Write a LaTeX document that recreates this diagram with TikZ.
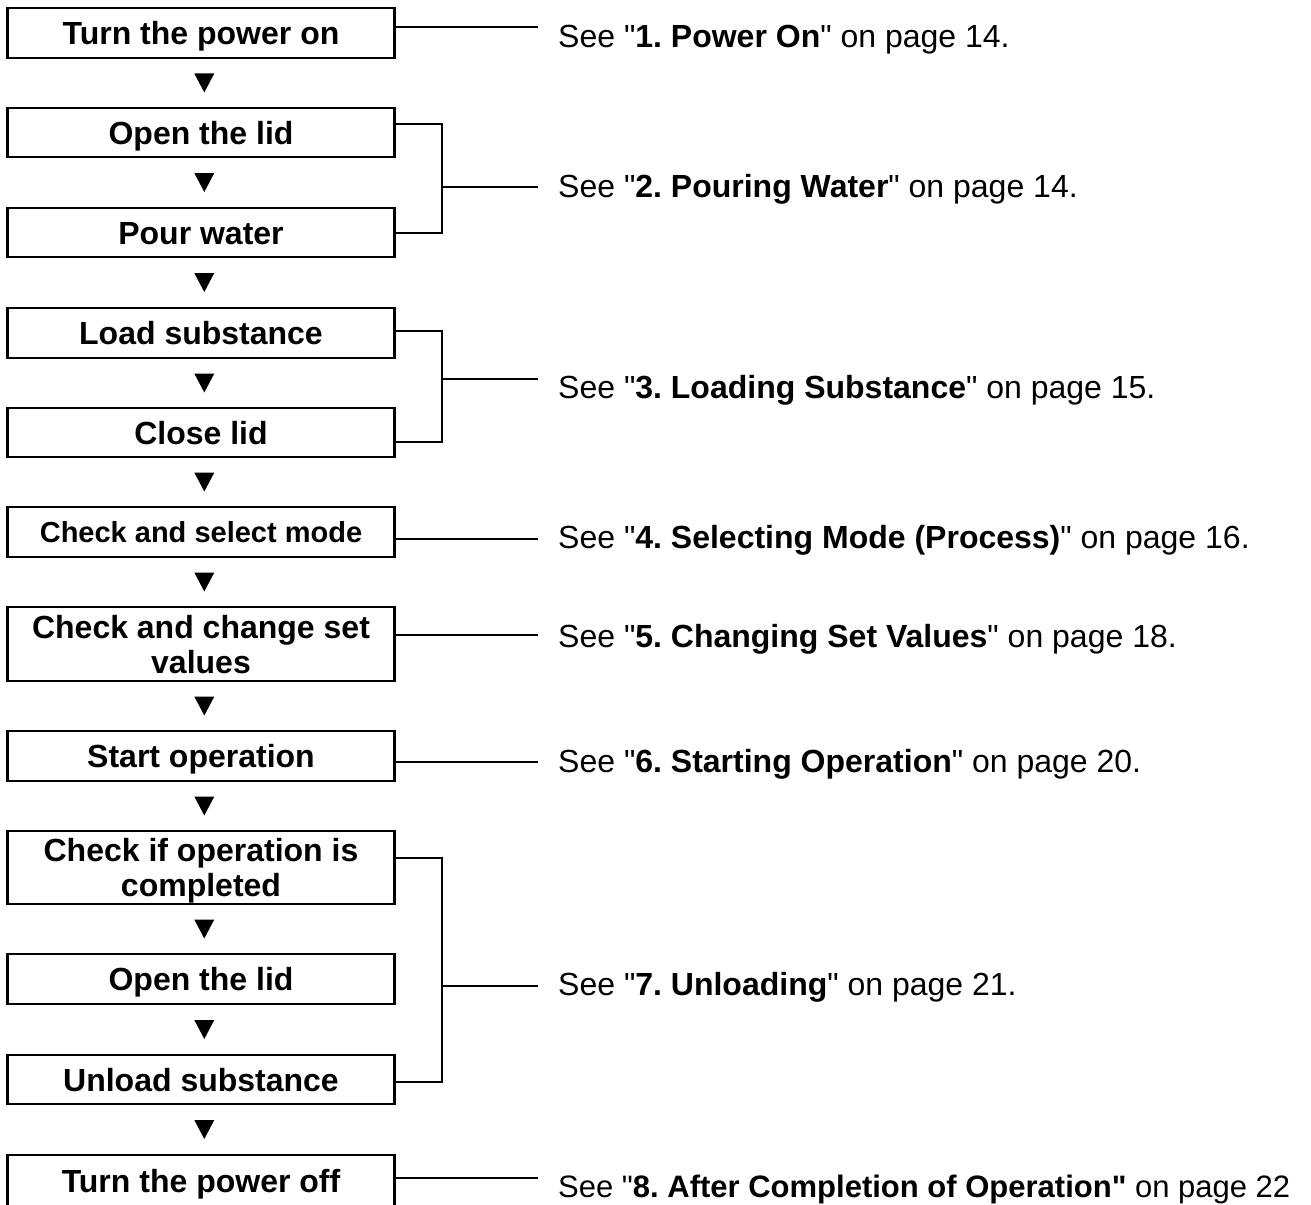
\documentclass[tikz,border=0pt]{standalone}
\usepackage{fontspec}
\setmainfont{Liberation Sans}[Ligatures=TeXOff]
\usetikzlibrary{calc}
\frenchspacing
\begin{document}
\begin{tikzpicture}[x=1pt,y=-1pt,
  stepbox/.style={draw,line width=2.7pt,minimum width=387pt,inner sep=0pt,outer sep=0pt,
    font=\fontsize{32}{35}\selectfont\bfseries,text height=23pt,text depth=0pt},
  twoline/.style={text height=58pt},
  refnote/.style={anchor=base west,inner sep=0pt,font=\fontsize{32}{35}\selectfont},
  conn/.style={line width=1.8pt},
  tri/.style={fill=black}]
\useasboundingbox[fill=white] (0,0) rectangle (1311,1204);

% boxes
\node[stepbox,minimum height=50pt] (b1) at (201,33) {Turn the power on};
\node[stepbox,minimum height=49pt] (b2) at (201,132.5) {Open the lid};
\node[stepbox,minimum height=49pt] (b3) at (201,232.5) {Pour water};
\node[stepbox,minimum height=50pt] (b4) at (201,333) {Load substance};
\node[stepbox,minimum height=49pt] (b5) at (201,432.5) {Close lid};
\node[stepbox,minimum height=50pt,font=\fontsize{29}{32}\selectfont\bfseries,text height=21pt] (b6) at (201,532) {Check and select mode};
\node[stepbox,twoline,minimum height=74pt] (b7) at (201,644) {\begin{tabular}[b]{@{}c@{}}Check and change set\\values\end{tabular}};
\node[stepbox,minimum height=50pt] (b8) at (201,756) {Start operation};
\node[stepbox,twoline,minimum height=73pt] (b9) at (201,867.5) {\begin{tabular}[b]{@{}c@{}}Check if operation is\\completed\end{tabular}};
\node[stepbox,minimum height=50pt] (b10) at (201,979) {Open the lid};
\node[stepbox,minimum height=49pt] (b11) at (201,1079.5) {Unload substance};
\node[stepbox,minimum height=51pt] (b12) at (201,1180.5) {Turn the power off};

% arrows between boxes
\foreach \a/\b in {b1/b2,b2/b3,b3/b4,b4/b5,b5/b6,b6/b7,b7/b8,b8/b9,b9/b10,b10/b11,b11/b12}{
  \path ($(\a.south)!0.5!(\b.north)$) coordinate (m);
  \fill[tri] ([shift={(-6.7,-9.5)}]m) -- ([shift={(13.3,-9.5)}]m) -- ([shift={(3.3,9.5)}]m) -- cycle;
}

% reference texts
\node[refnote] (r1) at (558,48) {See "\textbf{1. Power On}" on page 14.};
\node[refnote] (r2) at (558,197) {See "\textbf{2. Pouring Water}" on page 14.};
\node[refnote] (r3) at (558,398) {See "\textbf{3. Loading Substance}" on page 15.};
\node[refnote] (r4) at (558,548) {See "\textbf{4. Selecting Mode (Process)}" on page 16.};
\node[refnote] (r5) at (558,647) {See "\textbf{5. Changing Set Values}" on page 18.};
\node[refnote] (r6) at (558,772) {See "\textbf{6. Starting Operation}" on page 20.};
\node[refnote] (r7) at (558,995) {See "\textbf{7. Unloading}" on page 21.};
\node[refnote,font=\fontsize{31}{35}\selectfont] (r8) at (558,1197) {See "\textbf{8. After Completion of Operation"} on page 22};

% connector end points
\coordinate (j1) at (538,27);
\coordinate (t2) at (442,124); \coordinate (u2) at (442,233); \coordinate (k2) at (442,187); \coordinate (j2) at (538,187);
\coordinate (t3) at (442,331); \coordinate (u3) at (442,442); \coordinate (k3) at (442,379); \coordinate (j3) at (538,379);
\coordinate (j4) at (538,539);
\coordinate (j5) at (538,635);
\coordinate (j6) at (538,762);
\coordinate (t7) at (442,858); \coordinate (u7) at (442,1082); \coordinate (k7) at (442,986); \coordinate (j7) at (538,986);
\coordinate (j8) at (538,1178);

% connectors
\draw[conn] (b1.east |- j1) -- (j1);
\draw[conn] (b2.east |- t2) -- (t2) -- (u2) -- (b3.east |- u2);
\draw[conn] (k2) -- (j2);
\draw[conn] (b4.east |- t3) -- (t3) -- (u3) -- (b5.east |- u3);
\draw[conn] (k3) -- (j3);
\draw[conn] (b6.east |- j4) -- (j4);
\draw[conn] (b7.east |- j5) -- (j5);
\draw[conn] (b8.east |- j6) -- (j6);
\draw[conn] (b9.east |- t7) -- (t7) -- (u7) -- (b11.east |- u7);
\draw[conn] (k7) -- (j7);
\draw[conn] (b12.east |- j8) -- (j8);
\end{tikzpicture}
\end{document}
